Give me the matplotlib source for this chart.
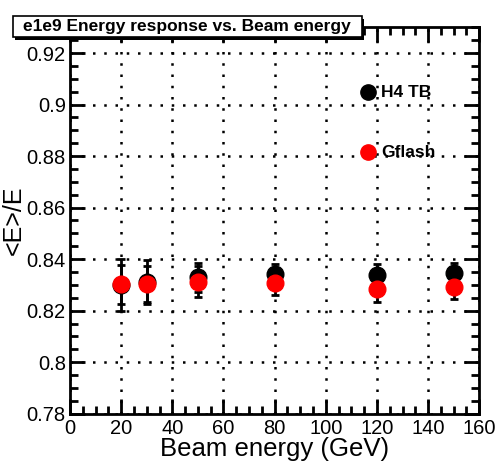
import numpy as np
import matplotlib.pyplot as plt
from matplotlib.ticker import MultipleLocator, FormatStrFormatter
from matplotlib.patches import Rectangle

plt.rcParams['font.family'] = ['Liberation Sans', 'DejaVu Sans']

# beam energies (GeV) and mean energy response
energy = [20, 30, 50, 80, 120, 150]
h4tb_resp = [0.8300, 0.8311, 0.8330, 0.8342, 0.8339, 0.8345]
h4tb_err = [0.0100, 0.0084, 0.0056, 0.0041, 0.0044, 0.0041]
gflash_resp = [0.8302, 0.8303, 0.8313, 0.8307, 0.8284, 0.8293]
gflash_err = [0.0075, 0.0070, 0.0060, 0.0047, 0.0049, 0.0046]

fig = plt.figure(figsize=(4.98, 4.68), dpi=100)
ax = fig.add_axes([0.1406, 0.116, 0.8218, 0.8257])

ax.errorbar(energy, h4tb_resp, yerr=h4tb_err, fmt='o', color='black',
            ms=12, ecolor='black', elinewidth=2, capsize=3, capthick=2, zorder=3)
ax.errorbar(energy, gflash_resp, yerr=gflash_err, fmt='o', color='red',
            ms=12, ecolor='black', elinewidth=2, capsize=3, capthick=2, zorder=4)

ax.set_xlim(0, 160)
ax.set_ylim(0.78, 0.93)
ax.xaxis.set_major_locator(MultipleLocator(20))
ax.xaxis.set_minor_locator(MultipleLocator(5))
ax.yaxis.set_major_locator(MultipleLocator(0.02))
ax.yaxis.set_minor_locator(MultipleLocator(0.005))
ax.yaxis.set_major_formatter(FormatStrFormatter('%g'))

ax.tick_params(which='both', direction='in', top=True, right=True,
               labeltop=False, labelright=False, width=2, labelsize=14.5)
ax.tick_params(which='major', length=11)
ax.tick_params(which='minor', length=6)
ax.tick_params(axis='x', pad=4)
ax.tick_params(axis='y', pad=3)
for s in ax.spines.values():
    s.set_linewidth(2)

ax.grid(True, which='major', color='black', linestyle=(0, (1, 3.5)), linewidth=1.8)
ax.set_axisbelow(True)

ax.set_xlabel('Beam energy (GeV)', fontsize=18.5)
ax.xaxis.label.set_va('baseline')
ax.xaxis.set_label_coords(0.5, -0.1087)
ax.set_ylabel('<E>/E', fontsize=18)
ax.yaxis.set_label_coords(-0.108, 0.5)

# legend drawn as markers with labels
ax.plot([116.4], [0.9048], 'o', color='black', ms=11, zorder=5)
ax.text(121.6, 0.9048, 'H4 TB', fontsize=12.5, fontweight='bold', va='center')
ax.plot([116.4], [0.8815], 'o', color='red', ms=11, zorder=5)
ax.text(121.6, 0.8815, 'Gflash', fontsize=12.5, fontweight='bold', va='center')

# title box with shadow
fig.patches.append(Rectangle((15 / 498, 1 - 40 / 468), 349 / 498, 21 / 468,
                             transform=fig.transFigure, facecolor='black', zorder=5))
fig.patches.append(Rectangle((12.7 / 498, 1 - 37 / 468), 349 / 498, 21 / 468,
                             transform=fig.transFigure, facecolor='white',
                             edgecolor='black', linewidth=1.2, zorder=6))
fig.text(187 / 498, 1 - 26.5 / 468, 'e1e9 Energy response vs. Beam energy',
         fontsize=12.5, fontweight='bold', ha='center', va='center', zorder=7)

fig.savefig('out.png', dpi=100)
